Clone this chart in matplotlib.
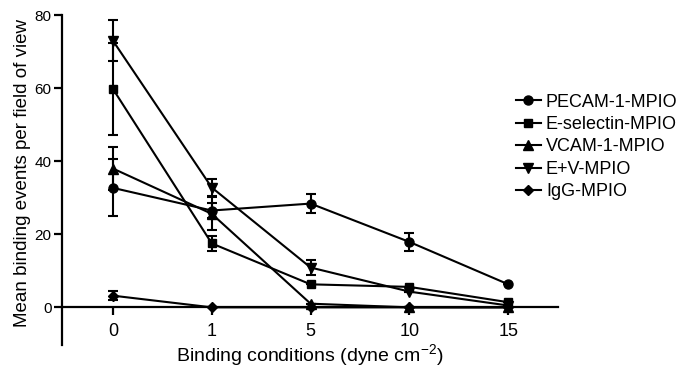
import matplotlib
matplotlib.use("Agg")
import matplotlib.pyplot as plt
import numpy as np

plt.rcParams['font.family'] = ['Liberation Sans', 'DejaVu Sans']
plt.rcParams['mathtext.fontset'] = 'custom'
plt.rcParams['mathtext.rm'] = 'Liberation Sans'
plt.rcParams['mathtext.default'] = 'regular'

categories = ["0", "1", "5", "10", "15"]
series_names = ["PECAM-1-MPIO", "E-selectin-MPIO", "VCAM-1-MPIO", "E+V-MPIO", "IgG-MPIO"]

pecam = [32.7, 26.5, 28.4, 17.9, 6.3]
pecam_err = [7.8, 2.0, 2.6, 2.4, 0.0]
esel = [59.8, 17.5, 6.3, 5.6, 1.4]
esel_err = [12.6, 2.0, 0.0, 0.0, 0.0]
vcam = [38.0, 25.6, 1.0, 0.0, 0.0]
vcam_err = [5.8, 4.5, 0.0, 0.0, 0.0]
ev = [73.0, 32.8, 10.9, 4.3, 0.5]
ev_err = [5.6, 2.4, 2.1, 0.0, 0.0]
igg = [3.2, 0.0, 0.0, 0.0, 0.0]
igg_err = [1.2, 0.0, 0.0, 0.0, 0.0]

values = [pecam, esel, vcam, ev, igg]
errors = [pecam_err, esel_err, vcam_err, ev_err, igg_err]
markers = ['o', 's', '^', 'v', 'D']
msizes = [6.5, 6.0, 7.0, 7.0, 5.5]

fig = plt.figure(figsize=(6.81, 3.67), dpi=100)
ax = fig.add_axes([0.091, 0.060, 0.728, 0.899])

x = np.arange(len(categories))
for vals, errs, m, ms, name in zip(values, errors, markers, msizes, series_names):
    ax.errorbar(x, vals, yerr=errs, color='black', marker=m, markersize=ms,
                linewidth=1.5, elinewidth=1.5, capsize=3.5, capthick=1.5,
                label=name, clip_on=False, zorder=3)

ax.set_xlim(-0.515, 4.5)
ax.set_ylim(-10.3, 80)
ax.set_yticks([0, 20, 40, 60, 80])
ax.set_xticks(x)
ax.set_xticklabels(categories)

ax.spines['top'].set_visible(False)
ax.spines['right'].set_visible(False)
ax.spines['bottom'].set_position(('data', 0))
for s in ['left', 'bottom']:
    ax.spines[s].set_linewidth(1.6)

ax.tick_params(axis='y', direction='out', length=6, width=1.6, labelsize=11, pad=1.5)
ax.tick_params(axis='x', direction='out', length=6, width=1.6, labelsize=13, pad=5)

ax.set_xlabel("Binding conditions (dyne cm$^{-2}$)", fontsize=14, labelpad=2)
ax.set_ylabel("Mean binding events per field of view", fontsize=13.5, labelpad=6)
ax.yaxis.set_label_coords(-0.062, 0.52)

leg_handles = [plt.Line2D([], [], color='black', marker=m, markersize=ms, linewidth=1.5)
               for m, ms in zip(markers, msizes)]
fig.legend(leg_handles, series_names, loc='upper left', bbox_to_anchor=(0.758, 0.745),
           frameon=False, fontsize=13, handlelength=1.35, handletextpad=0.3,
           labelspacing=0.3, borderpad=0, borderaxespad=0)

fig.savefig("out.png", dpi=100)
